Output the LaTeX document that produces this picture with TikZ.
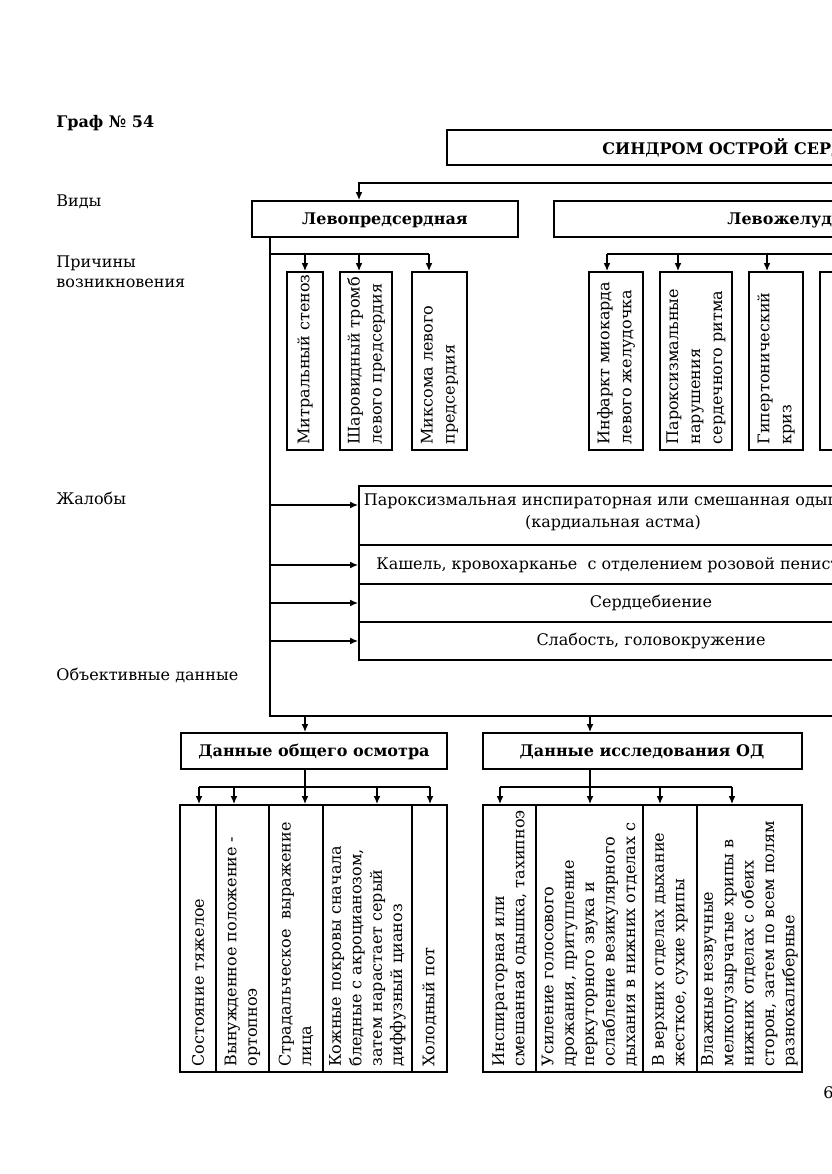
\documentclass[tikz,border=0pt]{standalone}
\usepackage{fontspec}
\setmainfont{DejaVu Serif}[Scale=0.8]
\usetikzlibrary{arrows.meta,fit,calc}
\begin{document}
\begin{tikzpicture}[x=0.5pt,y=-0.5pt,
  ln/.style={line width=0.8pt},
  bx/.style={draw,line width=0.8pt,inner sep=0pt,fit={#1}},
  arr/.style={line width=0.8pt,-{Latex[length=4pt,width=3.4pt]}},
  lbl/.style={anchor=west,inner sep=0pt,align=left,font=\fontsize{10}{10}\selectfont},
  hd/.style={inner sep=0pt,font=\fontsize{10}{12}\selectfont\bfseries},
  vup/.style={rotate=90,anchor=west,align=left,inner sep=0pt,font=\fontsize{10}{11}\selectfont},
  vlo/.style={rotate=90,anchor=west,align=left,inner sep=0pt,font=\fontsize{10}{10.2}\selectfont},
  txt/.style={inner sep=0pt,align=center,font=\fontsize{10}{11}\selectfont}
]
\useasboundingbox (0,0) rectangle (831,1174);
\fill[white] (0,0) rectangle (831,1174);

% left labels
\node[lbl,font=\fontsize{10}{12}\selectfont\bfseries] (graf) at (56,123) {Граф № 54};
\node[lbl] (vidy) at (56,202) {Виды};
\node[lbl] (prich) at (56,272) {Причины\\возникновения};
\node[lbl] (zhal) at (56,498) {Жалобы};
\node[lbl] (obj) at (56,675) {Объективные данные};
\node[lbl] (pg) at (823,1093) {6};

% top box
\node[bx={(447,130)(1100,165)}] (top) {};
\node[hd,anchor=west] (toptxt) at (602,148) {СИНДРОМ ОСТРОЙ СЕРДЕЧНОЙ НЕДОСТАТОЧНОСТИ};

% kinds
\node[bx={(252,201)(518,237)}] (la) {};
\node[hd,anchor=base] (latxt) at (385,224) {Левопредсердная};
\node[bx={(554,201)(1100,237)}] (lv) {};
\node[hd,anchor=base west] (lvtxt) at (727,224) {Левожелудочковая};

\coordinate (t0) at (359,183);
\coordinate (t1) at (1000,183);
\draw[arr] (t1) -- (t0) -- (t0 |- la.north);

% causes (left atrial)
\node[bx={(287,272)(323,450)}] (c1) {};
\node[bx={(340,272)(392,450)}] (c2) {};
\node[bx={(412,272)(467,450)}] (c3) {};
\node[vup] at ($(c1.south)+(0,-6)$) {Митральный стеноз};
\node[vup] at ($(c2.south)+(0,-6)$) {Шаровидный тромб\\левого предсердия};
\node[vup] at ($(c3.south)+(0,-6)$) {Миксома левого\\предсердия};

% causes (left ventricular)
\node[bx={(589,272)(643,450)}] (c4) {};
\node[bx={(660,272)(732,450)}] (c5) {};
\node[bx={(749,272)(803,450)}] (c6) {};
\node[bx={(820,272)(880,450)}] (c7) {};
\node[vup] at ($(c4.south)+(0,-6)$) {Инфаркт миокарда\\левого желудочка};
\node[vup] at ($(c5.south)+(0,-6)$) {Пароксизмальные\\нарушения\\сердечного ритма};
\node[vup] at ($(c6.south)+(0,-6)$) {Гипертонический\\криз};

% spine
\coordinate (sp) at (270,716);
\coordinate (spr) at (1000,716);
\draw[ln] (la.south -| sp) -- (sp) -- (spr);

\coordinate (b0) at (270,254);
\coordinate (b1) at (305,254);
\coordinate (b2) at (359,254);
\coordinate (b3) at (429,254);
\draw[ln] (b0) -- (b3);
\draw[arr] (b1) -- (b1 |- c1.north);
\draw[arr] (b2) -- (b2 |- c2.north);
\draw[arr] (b3) -- (b3 |- c3.north);

\coordinate (v1) at (607,254);
\coordinate (v2) at (678,254);
\coordinate (v3) at (767,254);
\coordinate (v4) at (1000,254);
\draw[ln] (v4) -- (v1);
\draw[arr] (v1) -- (v1 |- c4.north);
\draw[arr] (v2) -- (v2 |- c5.north);
\draw[arr] (v3) -- (v3 |- c6.north);

% complaints
\node[bx={(359,486)(950,545)}] (r1) {};
\node[bx={(359,545)(950,584)}] (r2) {};
\node[bx={(359,584)(950,622)}] (r3) {};
\node[bx={(359,622)(950,660)}] (r4) {};
\node[txt] at (613,512) {Пароксизмальная инспираторная или смешанная одышка\\(кардиальная астма)};
\node[txt,anchor=west] at (376,565) {Кашель, кровохарканье\ \ с отделением розовой пенистой мокроты};
\node[txt] at (651,603) {Сердцебиение};
\node[txt] at (651,641) {Слабость, головокружение};
\coordinate (k1) at (270,505);
\coordinate (k2) at (270,565);
\coordinate (k3) at (270,603);
\coordinate (k4) at (270,641);
\draw[arr] (k1) -- (k1 -| r1.west);
\draw[arr] (k2) -- (k2 -| r2.west);
\draw[arr] (k3) -- (k3 -| r3.west);
\draw[arr] (k4) -- (k4 -| r4.west);

% objective data
\node[bx={(181,733)(447,769)}] (osm) {};
\node[hd,anchor=base] at (314,756) {Данные общего осмотра};
\node[bx={(483,733)(802,769)}] (od) {};
\node[hd,anchor=base] at (642,756) {Данные исследования ОД};
\coordinate (o1) at (305,716);
\coordinate (o2) at (590,716);
\draw[arr] (o1) -- (o1 |- osm.north);
\draw[arr] (o2) -- (o2 |- od.north);

% general examination boxes
\node[bx={(180,805)(216,1072)}] (g1) {};
\node[bx={(216,805)(269,1072)}] (g2) {};
\node[bx={(269,805)(323,1072)}] (g3) {};
\node[bx={(323,805)(412,1072)}] (g4) {};
\node[bx={(412,805)(447,1072)}] (g5) {};
\node[vlo] at ($(g1.south)+(0,-6)$) {Состояние тяжелое};
\node[vlo] at ($(g2.south)+(0,-6)$) {Вынужденное положение -\\ортопноэ};
\node[vlo] at ($(g3.south)+(0,-6)$) {Страдальческое\ \ выражение\\лица};
\node[vlo] at ($(g4.south)+(0,-6)$) {Кожные покровы сначала\\бледные с акроцианозом,\\затем нарастает серый\\диффузный цианоз};
\node[vlo] at ($(g5.south)+(0,-6)$) {Холодный пот};

\coordinate (gb0) at (305,787);
\coordinate (gb1) at (199,787);
\coordinate (gb2) at (234,787);
\coordinate (gb4) at (377,787);
\coordinate (gb5) at (430,787);
\draw[ln] (osm.south -| gb0) -- (gb0);
\draw[ln] (gb1) -- (gb5);
\draw[arr] (gb1) -- (gb1 |- g1.north);
\draw[arr] (gb2) -- (gb2 |- g2.north);
\draw[arr] (gb0) -- (gb0 |- g3.north);
\draw[arr] (gb4) -- (gb4 |- g4.north);
\draw[arr] (gb5) -- (gb5 |- g5.north);

% respiratory organs boxes
\node[bx={(483,805)(536,1072)}] (d1) {};
\node[bx={(536,805)(643,1072)}] (d2) {};
\node[bx={(643,805)(697,1072)}] (d3) {};
\node[bx={(697,805)(802,1072)}] (d4) {};
\node[vlo] at ($(d1.south)+(0,-6)$) {Инспираторная или\\смешанная одышка, тахипноэ};
\node[vlo] at ($(d2.south)+(0,-6)$) {Усиление голосового\\дрожания, притупление\\перкуторного звука и\\ослабление везикулярного\\дыхания в нижних отделах с};
\node[vlo] at ($(d3.south)+(0,-6)$) {В верхних отделах дыхание\\жесткое, сухие хрипы};
\node[vlo] at ($(d4.south)+(0,-6)$) {Влажные незвучные\\мелкопузырчатые хрипы в\\нижних отделах с обеих\\сторон, затем по всем полям\\разнокалиберные};

\coordinate (db0) at (590,787);
\coordinate (db1) at (500,787);
\coordinate (db3) at (660,787);
\coordinate (db4) at (732,787);
\draw[ln] (od.south -| db0) -- (db0);
\draw[ln] (db1) -- (db4);
\draw[arr] (db1) -- (db1 |- d1.north);
\draw[arr] (db0) -- (db0 |- d2.north);
\draw[arr] (db3) -- (db3 |- d3.north);
\draw[arr] (db4) -- (db4 |- d4.north);
\end{tikzpicture}
\end{document}
